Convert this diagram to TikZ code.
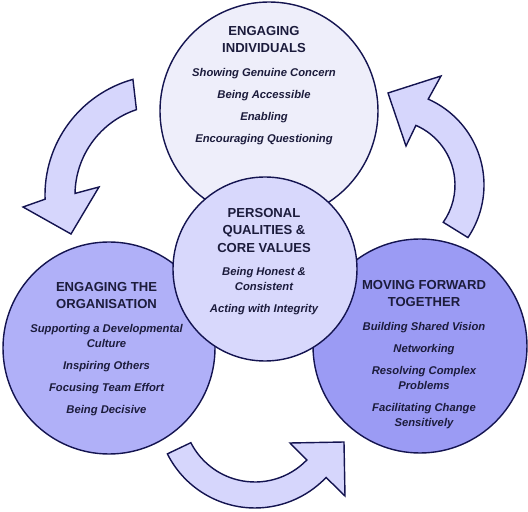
\documentclass[tikz,border=0pt]{standalone}
\usepackage{fontspec}
\setmainfont{Liberation Sans}
\usepackage{tikz}
\usetikzlibrary{positioning}
\definecolor{RingLine}{RGB}{20,20,80}
\definecolor{TextNavy}{RGB}{28,28,60}
\definecolor{IndivFill}{RGB}{238,238,250}
\definecolor{CoreFill}{RGB}{216,216,252}
\definecolor{OrgFill}{RGB}{176,176,248}
\definecolor{MoveFill}{RGB}{155,155,244}
\definecolor{FlowFill}{RGB}{214,214,252}

\begin{document}
\begin{tikzpicture}[x=0.25mm, y=0.25mm,
            ring/.style={draw=RingLine, line width=1pt, circle, inner sep=0pt},
            flow/.style={draw=RingLine, fill=FlowFill, line width=1pt, line join=miter},
            heading/.style={anchor=north, align=center, inner sep=0pt, text=TextNavy, font=\fontsize{9.3}{12.2}\selectfont\bfseries},
            itemlist/.style={align=center, inner sep=0pt, text=TextNavy, font=\fontsize{8}{10.6}\selectfont\bfseries\itshape}
        ]
            \useasboundingbox (0,0) rectangle (528,512);

            % Arrows between the outer circles
            \begin{scope}[shift={(165,317)}]
                \draw[flow] (105.5:120) arc[start angle=105.5, end angle=182, radius=120]
                    -- (-142,-12) -- (-94,-39) -- (-66,8)
                    -- (179:90) arc[start angle=179, end angle=108.5, radius=90] -- cycle;
            \end{scope}
            \begin{scope}[shift={(390,327)}]
                \draw[flow] (-34:94) arc[start angle=-34, end angle=66, radius=94]
                    -- (51,109) -- (-2,92) -- (16,39)
                    -- (66.5:65) arc[start angle=66.5, end angle=-35, radius=65] -- cycle;
            \end{scope}
            \begin{scope}[shift={(255,102)}]
                \draw[flow] (206.6:98) arc[start angle=206.6, end angle=316.5, radius=98]
                    -- (90,-86) -- (89,-32) -- (35,-33)
                    -- (316:72) arc[start angle=316, end angle=207, radius=72] -- cycle;
            \end{scope}

            % Circles
            \node[ring, fill=IndivFill, minimum size=54.5mm] (indiv) at (269,401) {};
            \node[ring, fill=OrgFill, minimum size=53mm] (org) at (109,164) {};
            \node[ring, fill=MoveFill, minimum size=53.5mm] (move) at (420,166) {};
            \node[ring, fill=CoreFill, minimum size=46mm] (core) at (265,243) {};

            % Texts
            \node[heading] (indivT) at (264,486) {ENGAGING\\INDIVIDUALS};
            \node[itemlist, below=10.6pt of indivT] (indivL) {Showing Genuine Concern\\[5pt]Being Accessible\\[5pt]Enabling\\[5pt]Encouraging Questioning};

            \node[heading] (coreT) at (264,303.7) {PERSONAL\\QUALITIES \&\\CORE VALUES};
            \node[itemlist, below=10.6pt of coreT] (coreL) {Being Honest \&\\Consistent\\[5pt]Acting with Integrity};

            \node[heading] (orgT) at (106.5,229.7) {ENGAGING THE\\ORGANISATION};
            \node[itemlist, below=10.6pt of orgT] (orgL) {Supporting a Developmental\\Culture\\[5pt]Inspiring Others\\[5pt]Focusing Team Effort\\[5pt]Being Decisive};

            \node[heading] (moveT) at (424,231.7) {MOVING FORWARD\\TOGETHER};
            \node[itemlist, below=10.6pt of moveT] (moveL) {Building Shared Vision\\[5pt]Networking\\[5pt]Resolving Complex\\Problems\\[5pt]Facilitating Change\\Sensitively};
        \end{tikzpicture}
\end{document}
